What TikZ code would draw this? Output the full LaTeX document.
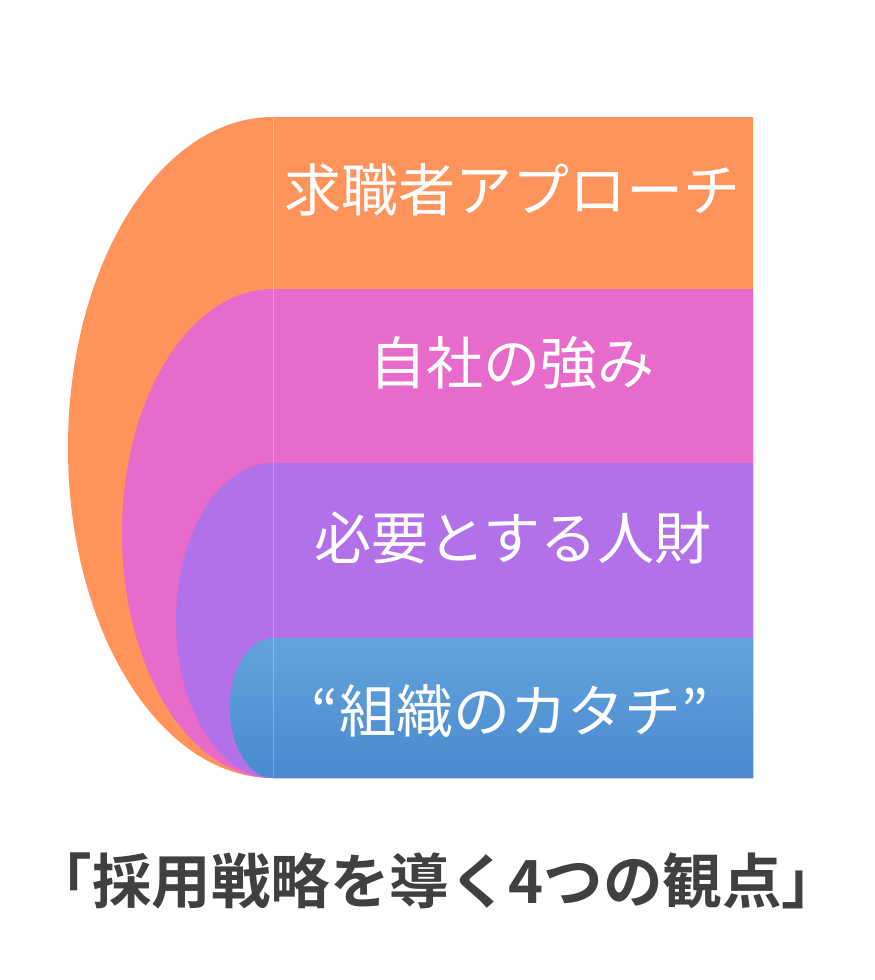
\documentclass[tikz,border=0pt]{standalone}
\usepackage{fontspec}
\newfontfamily\jp{Noto Sans CJK JP}
\newfontfamily\jpb{Noto Sans CJK JP Bold}
\definecolor{cOrange}{HTML}{FF935C}
\definecolor{cPink}{HTML}{E66BCB}
\definecolor{cPurple}{HTML}{B271E8}
\definecolor{cBlueT}{HTML}{63A3DD}
\definecolor{cBlueB}{HTML}{4A8ACD}
\definecolor{cTitle}{HTML}{404040}
\tikzset{
  lbl/.style={text=white, font=\jp\fontsize{57}{62}\selectfont, inner sep=0pt, anchor=center},
  ttl/.style={text=cTitle, font=\jpb\fontsize{59.5}{64}\selectfont, inner sep=0pt, anchor=center},
  seam/.style={draw=white, draw opacity=0.25, line width=0.6pt}
}
\begin{document}
\begin{tikzpicture}[x=1pt,y=-1pt]
\useasboundingbox (0,0) rectangle (875,980);
\fill[white] (0,0) rectangle (875,980);
% orange
\fill[cOrange] (753,117) -- (273,117) arc[start angle=270, end angle=90, x radius=205, y radius=330.5] -- (753,778) -- cycle;
% pink
\fill[cPink] (753,289) -- (273,289) arc[start angle=270, end angle=90, x radius=151, y radius=244.5] -- (753,778) -- cycle;
% purple
\fill[cPurple] (753,463) -- (273,463) arc[start angle=270, end angle=90, x radius=97, y radius=157.5] -- (753,778) -- cycle;
% blue
\shade[top color=cBlueT, bottom color=cBlueB] (753,638) -- (273,638) arc[start angle=270, end angle=90, x radius=43, y radius=70] -- (753,778) -- cycle;
\draw[seam] (273,117) -- (273,778);
\node[lbl] (t1) at (512,190) {求職者アプローチ};
\node[lbl] (t2) at (512,363) {自社の強み};
\node[lbl] (t3) at (513,538) {必要とする人財};
\node[lbl] (t4) at (510,711) {“組織のカタチ”};
\node[ttl] (title) at (437,881) {「採用戦略を導く4つの観点」};
\end{tikzpicture}
\end{document}
